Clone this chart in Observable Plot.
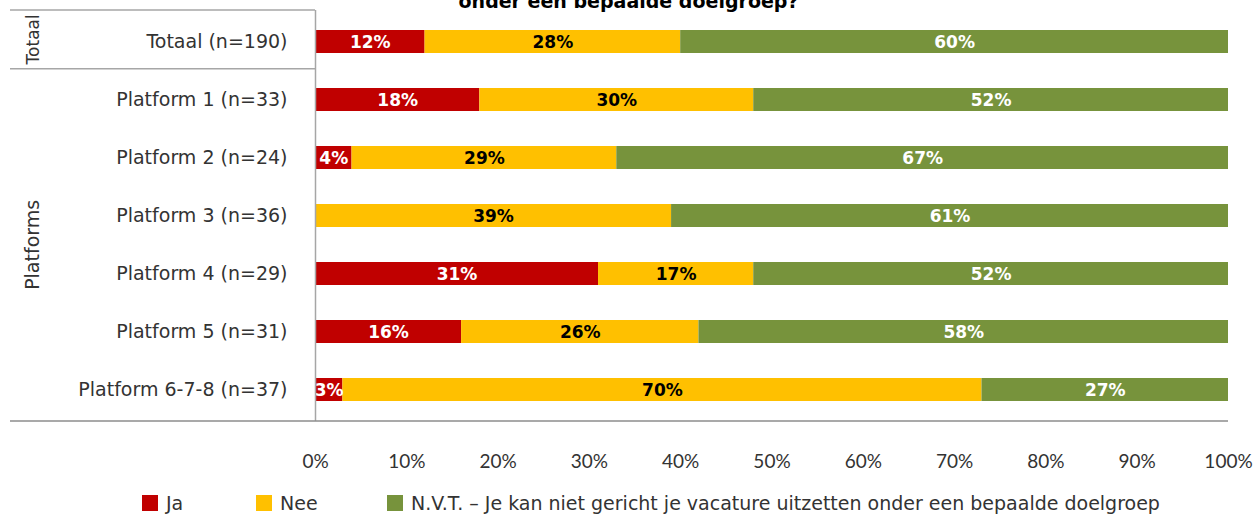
<!DOCTYPE html>
<html>
<head>
<meta charset="utf-8">
<script src="https://cdn.jsdelivr.net/npm/d3@7"></script>
<script src="https://cdn.jsdelivr.net/npm/@observablehq/plot@0.6"></script>
<style>
  html, body { margin: 0; padding: 0; background: #fff; overflow: hidden; }
  #wrap { position: relative; width: 1257px; height: 514px; font-family: "DejaVu Sans", sans-serif; color: #333; }
  #title { position: absolute; z-index: 2; left: 0; width: 1257px; top: -10px; line-height: 22px; text-align: center; font: 700 19px "DejaVu Sans", sans-serif; color: #000; }
  #chart { position: absolute; z-index: 1; left: 0; top: 0; }
  .legend { position: absolute; top: 493px; left: 0; width: 1257px; height: 20px; font: 400 19px "DejaVu Sans", sans-serif; color: #333; }
  .legend .item { position: absolute; top: 0; display: flex; align-items: center; white-space: nowrap; line-height: 20px; }
  .legend .sw { width: 16px; height: 16px; margin-right: 8px; }
</style>
</head>
<body>
<div id="wrap">
  <div id="title">onder een bepaalde doelgroep?</div>
  <div id="chart"></div>
  <div class="legend" id="legend"></div>
</div>
<script>
// ---- data ----
const categories = ["Totaal (n=190)", "Platform 1 (n=33)", "Platform 2 (n=24)", "Platform 3 (n=36)", "Platform 4 (n=29)", "Platform 5 (n=31)", "Platform 6-7-8 (n=37)"];
const groupNames = ["Totaal", "Platforms"];
const groupSizes = [1, 6];
const seriesNames = ["Ja", "Nee", "N.V.T. – Je kan niet gericht je vacature uitzetten onder een bepaalde doelgroep"];
const ja  = [12, 18, 4, 0, 31, 16, 3];
const nee = [28, 30, 29, 39, 17, 26, 70];
const nvt = [60, 52, 67, 61, 52, 58, 27];
const seriesColors = ["#c00000", "#ffc000", "#77933c"];
const labelColors = ["#ffffff", "#000000", "#ffffff"];
const xTicks = [0, 10, 20, 30, 40, 50, 60, 70, 80, 90, 100];

const seriesValues = [ja, nee, nvt];
const rows = [];
categories.forEach((c, i) => {
  seriesValues.forEach((vals, s) => {
    rows.push({cat: c, s, series: seriesNames[s], value: vals[i]});
  });
});

const W = 1257, H = 480;
const mTop = 10, mBottom = 59, mLeft = 315, mRight = 29;

const chart = Plot.plot({
  width: W,
  height: H,
  marginTop: mTop,
  marginBottom: mBottom,
  marginLeft: mLeft,
  marginRight: mRight,
  style: {fontFamily: "'DejaVu Sans', sans-serif", color: "#333", background: "transparent"},
  x: {domain: [0, 100]},
  y: {domain: categories, padding: 0.6, paddingOuter: 0.3},
  color: {domain: seriesNames, range: seriesColors},
  marks: [
    Plot.barX(rows, Plot.stackX({x: "value", y: "cat", fill: "series", order: "s"})),
    Plot.text(rows.filter(d => d.value > 0), Plot.stackX({
      x: "value", y: "cat", z: "series", order: "s",
      text: d => d.value + "%",
      fill: d => labelColors[d.s],
      fontSize: 17, fontWeight: "bold", fontFamily: "'DejaVu Sans', sans-serif",
      dy: 1
    })),
    Plot.ruleX([0], {stroke: "#a6a6a6", strokeWidth: 1.5}),
    Plot.axisY({tickSize: 0, tickPadding: 28, fontSize: 19, label: null, fill: "#333", fontFamily: "'DejaVu Sans', sans-serif"}),
    Plot.axisX({ticks: xTicks, tickFormat: d => d + "%", tickSize: 0, tickPadding: 33, fontSize: 19, label: null, fill: "#333", fontFamily: "Lato, sans-serif"})
  ]
});

document.getElementById("chart").appendChild(chart);

// ---- group brackets & labels (derived from scales) ----
const svg = d3.select(chart);
const ys = chart.scale("y");
const xs = chart.scale("x");
const step = (ys.range[1] - ys.range[0]) / categories.length;
const x0 = xs.apply(0), x100 = xs.apply(100);
const leftX = 10;
const lineColor = "#a6a6a6";
const deco = svg.append("g");

let acc = 0;
const bounds = [ys.range[0]];
groupSizes.forEach(n => { acc += n; bounds.push(ys.range[0] + acc * step); });

bounds.forEach((yb, i) => {
  const last = i === bounds.length - 1;
  deco.append("line")
    .attr("x1", leftX).attr("x2", last ? x100 : x0)
    .attr("y1", yb).attr("y2", yb)
    .attr("stroke", last ? "#8c8c8c" : lineColor).attr("stroke-width", 1.5);
});

groupNames.forEach((g, i) => {
  const yc = (bounds[i] + bounds[i + 1]) / 2;
  deco.append("text")
    .attr("transform", `translate(39,${yc}) rotate(-90)`)
    .attr("text-anchor", "middle")
    .attr("font-size", i === 0 ? 17 : 19)
    .attr("font-family", "'DejaVu Sans', sans-serif")
    .attr("fill", "#333")
    .text(g);
});

// ---- legend ----
const legendX = [142, 256, 387];
const legend = d3.select("#legend");
seriesNames.forEach((name, i) => {
  const it = legend.append("div").attr("class", "item").style("left", legendX[i] + "px");
  it.append("div").attr("class", "sw").style("background", seriesColors[i]);
  it.append("span").text(name);
});
</script>
</body>
</html>
